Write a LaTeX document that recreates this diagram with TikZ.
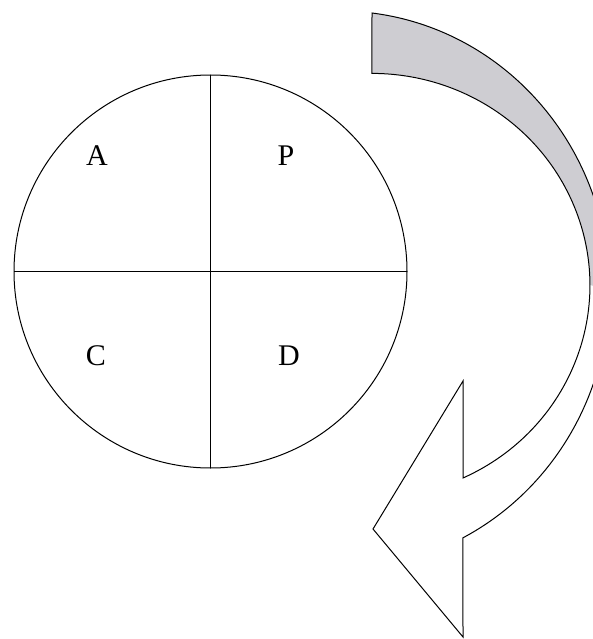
\documentclass[tikz,border=0pt]{standalone}
\usepackage{fontspec}
\setmainfont{Liberation Serif}
\definecolor{backface}{RGB}{206,205,210}

\begin{document}
\begin{tikzpicture}[
  x=1pt,y=-1pt,
  line width=1pt,
  quad/.style={font=\fontsize{30}{30}\selectfont,inner sep=0pt},
  wheel/.style={circle,draw,minimum size=393pt,inner sep=0pt,outer sep=0pt},
  band/.style={draw,line join=miter},
]
\useasboundingbox (0,0) rectangle (593,639);

% ---------- left: the wheel with its four quarters ----------
\node[wheel] (pdca) at (210.5,271.5) {};
\draw (pdca.north) -- (pdca.south);
\draw (pdca.west) -- (pdca.east);
\node[quad] (qa) at (97,156) {A};
\node[quad] (qp) at (286,156) {P};
\node[quad] (qc) at (96,356) {C};
\node[quad] (qd) at (289,356) {D};

% ---------- right: the turning arrow ----------
\begin{scope}
  \clip (0,0) rectangle (593,639);
  \fill[backface] (372,13) arc[start angle=-83,end angle=0,x radius=270,y radius=279]
    -- (590,285) arc[start angle=0,end angle=-90,x radius=218,y radius=212] -- cycle;
  \draw[band] (372,13) arc[start angle=-83,end angle=62.7,x radius=270,y radius=279]
    -- (463,637) -- (373,529) -- (463,381) -- (463,478)
    arc[start angle=65.3,end angle=-90,x radius=218,y radius=212] -- cycle;
\end{scope}

\end{tikzpicture}
\end{document}
